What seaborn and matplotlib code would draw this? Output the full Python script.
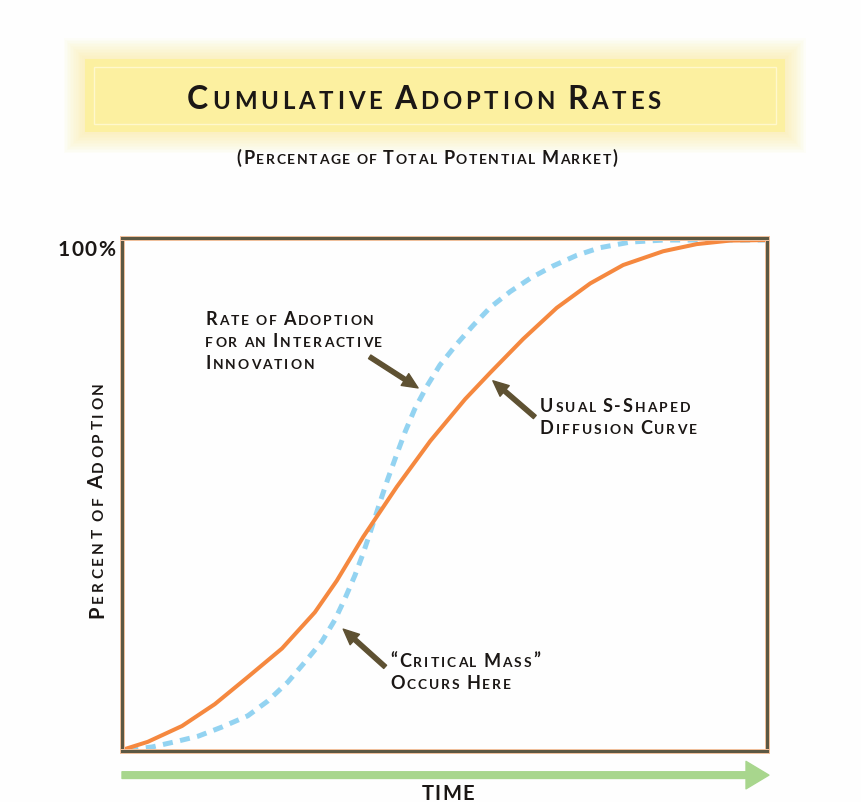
"""
Cumulative adoption rates: usual S-shaped diffusion curve vs. the
steeper curve of an interactive innovation (critical mass effect).
"""

import matplotlib

matplotlib.use("Agg")
import matplotlib.pyplot as plt
import matplotlib.patheffects as pe
import pandas as pd
import seaborn as sns
from matplotlib.patches import FancyArrowPatch, Rectangle
from matplotlib.transforms import ScaledTranslation

# ---- data (time in arbitrary units 0-100, percent of potential market) ----
usual_time = [0, 4.0, 9.3, 14.4, 19.5, 24.8, 29.9, 33.3, 37.4, 42.6, 47.8,
              53.2, 57.1, 62.2, 67.4, 72.6, 77.7, 83.9, 89.1, 94.3, 100]
usual_pct = [0, 1.6, 4.7, 9.0, 14.3, 19.9, 27.0, 33.2, 41.8, 51.6, 60.6,
             68.8, 74.0, 80.6, 86.7, 91.5, 95.1, 97.8, 99.2, 99.9, 100]

interactive_time = [1, 4.7, 8.2, 11.8, 15.5, 19.5, 22.6, 25.7, 28.4, 31.0,
                    33.0, 34.6, 36.1, 37.4, 38.8, 40.0, 41.2, 42.6, 43.9,
                    45.4, 47.3, 49.3, 51.9, 54.4, 57.1, 60.2, 63.3, 66.8,
                    70.5, 74.1, 78.8, 84.0, 100]
interactive_pct = [0, 0.6, 1.6, 2.7, 4.5, 6.7, 9.6, 13.3, 17.3, 21.3,
                   25.5, 29.8, 34.2, 38.6, 43.9, 48.6, 53.1, 58.0, 62.4,
                   66.9, 71.4, 75.5, 79.6, 83.2, 86.8, 89.9, 92.5, 94.9,
                   97.0, 98.5, 99.6, 100, 100]

title = "Cumulative Adoption Rates"
subtitle = "(Percentage of Total Potential Market)"
y_label = "Percent of Adoption"
x_label = "TIME"
top_tick = "100%"
note_interactive = ["Rate of Adoption", "for an Interactive", "Innovation"]
note_usual = ["Usual S-Shaped", "Diffusion Curve"]
note_mass = ["\u201cCritical Mass\u201d", "Occurs Here"]

ORANGE = "#f5883f"
BLUE = "#93d3f1"
FRAME = "#5c5843"
ARROW = "#5e5132"
GREEN = "#a8d68d"
INK = "#1b1715"
FONT = dict(family="Lato", weight="bold", color=INK)

W, H = 862, 803

sns.set_theme(style="white")
plt.rcParams["font.family"] = ["Lato", "DejaVu Sans"]

fig = plt.figure(figsize=(W / 100, H / 100), dpi=100, facecolor="#fefefe")
ax = fig.add_axes([122 / W, (H - 752) / H, 645 / W, 513 / H])
ax.set_facecolor("#fefefe")

_widths = {}


def _glyph_width(ch, size):
    key = (ch, size)
    if key not in _widths:
        t = fig.text(0, 0, ch, fontsize=size, **FONT)
        _widths[key] = t.get_window_extent(fig.canvas.get_renderer()).width
        t.remove()
    return _widths[key]


def smallcaps(x, y, text, size, transform, ha="left", rotation=0,
              offset=(0, 0), ratio=0.76, track=0.11):
    """Draw text in faux small caps, one glyph at a time, with tracking."""
    px = fig.dpi / 72
    gap = track * size * px
    pieces = []
    for ch in text:
        if ch == " ":
            pieces.append((None, 0, 0.26 * size * px))
        else:
            s = size * ratio if ch.islower() else size
            pieces.append((ch.upper(), s, _glyph_width(ch.upper(), s) + gap))
    total = sum(p[2] for p in pieces) - gap
    start = {"left": 0, "center": -total / 2, "right": -total}[ha]
    dx, dy = (0, 1) if rotation == 90 else (1, 0)
    pos = start
    for ch, s, adv in pieces:
        if ch is not None:
            ox = offset[0] + dx * pos
            oy = offset[1] + dy * pos
            tr = transform + ScaledTranslation(ox / fig.dpi, oy / fig.dpi,
                                               fig.dpi_scale_trans)
            fig.text(x, y, ch, transform=tr, fontsize=s, ha="left",
                     va="baseline", rotation=rotation,
                     rotation_mode="anchor", **FONT)
        pos += adv


# ---- title box with soft yellow glow ----
def fig_box(x0, y0, x1, y1, **kw):
    return Rectangle((x0 / W, 1 - y1 / H), (x1 - x0) / W, (y1 - y0) / H,
                     transform=fig.transFigure, **kw)


for i in range(14, 0, -1):
    g = i * 1.5
    fig.add_artist(fig_box(85 - g, 60 - g, 785 + g, 133 + g,
                           facecolor="#fbec8a", edgecolor="none", alpha=0.045))
fig.add_artist(fig_box(85, 60, 785, 133, facecolor="#fcf0a0", edgecolor="none"))
fig.add_artist(fig_box(94, 68, 776, 125, facecolor="none",
                       edgecolor="#fff8cc", lw=1.0))

smallcaps(424 / W, 1 - 109 / H, title, 23, fig.transFigure, ha="center",
          ratio=0.75, track=0.12)
smallcaps(427 / W, 1 - 164 / H, subtitle, 13, fig.transFigure,
          ha="center", ratio=0.77, track=0.09)

# ---- curves ----
usual = pd.DataFrame({"time": usual_time, "pct": usual_pct})
interactive = pd.DataFrame({"time": interactive_time, "pct": interactive_pct})

sns.lineplot(data=interactive, x="time", y="pct", ax=ax, color=BLUE,
             linewidth=3.6, linestyle=(0, (2.0, 1.5)), zorder=2)
sns.lineplot(data=usual, x="time", y="pct", ax=ax, color=ORANGE,
             linewidth=2.9, zorder=3)

ax.set_xlim(0, 100)
ax.set_ylim(-0.2, 100.4)
ax.set_xticks([])
ax.set_yticks([])
ax.set_xlabel("")
ax.set_ylabel("")
for spine in ax.spines.values():
    spine.set_color(FRAME)
    spine.set_linewidth(2.2)
    spine.set_zorder(5)
    spine.set_path_effects([pe.Stroke(linewidth=3.6, foreground="#f4c29e"),
                            pe.Normal()])

# ---- annotations ----
arrow_kw = dict(arrowstyle="simple,head_length=0.8,head_width=0.72,"
                           "tail_width=0.22",
                mutation_scale=14, color=ARROW, shrinkA=0, shrinkB=0)
ax.annotate("", xy=(45.9, 71.0), xytext=(38.4, 77.1), arrowprops=arrow_kw)
ax.annotate("", xy=(34.3, 23.7), xytext=(40.8, 16.3), arrowprops=arrow_kw)
ax.annotate("", xy=(57.5, 72.4), xytext=(64.0, 65.3), arrowprops=arrow_kw)

for i, line in enumerate(note_interactive):
    smallcaps(12.9, 83.5, line, 13, ax.transData, offset=(0, -22 * i))
for i, line in enumerate(note_mass):
    smallcaps(41.6, 16.5, line, 13, ax.transData, offset=(0, -22 * i))
for i, line in enumerate(note_usual):
    smallcaps(64.8, 66.5, line, 13, ax.transData, offset=(0, -22 * i))

# ---- axis labels ----
smallcaps(0, 1, top_tick, 15, ax.transAxes, ha="right", offset=(-7, -17),
          track=0.07)
smallcaps(0, 0.491, y_label, 14.5, ax.transAxes, ha="center", rotation=90,
          offset=(-19, 0), ratio=0.76, track=0.15)
smallcaps(0.505, 0, x_label, 14.5, ax.transAxes, ha="center",
          offset=(0, -48), track=0.06)

time_arrow = FancyArrowPatch(
    (0.0, -0.047), (1.003, -0.047), transform=ax.transAxes,
    arrowstyle="simple,head_length=0.75,head_width=0.9,tail_width=0.22",
    mutation_scale=22, color=GREEN, shrinkA=0, shrinkB=0, clip_on=False)
ax.add_patch(time_arrow)

fig.savefig("out.png", dpi=100, facecolor=fig.get_facecolor())
